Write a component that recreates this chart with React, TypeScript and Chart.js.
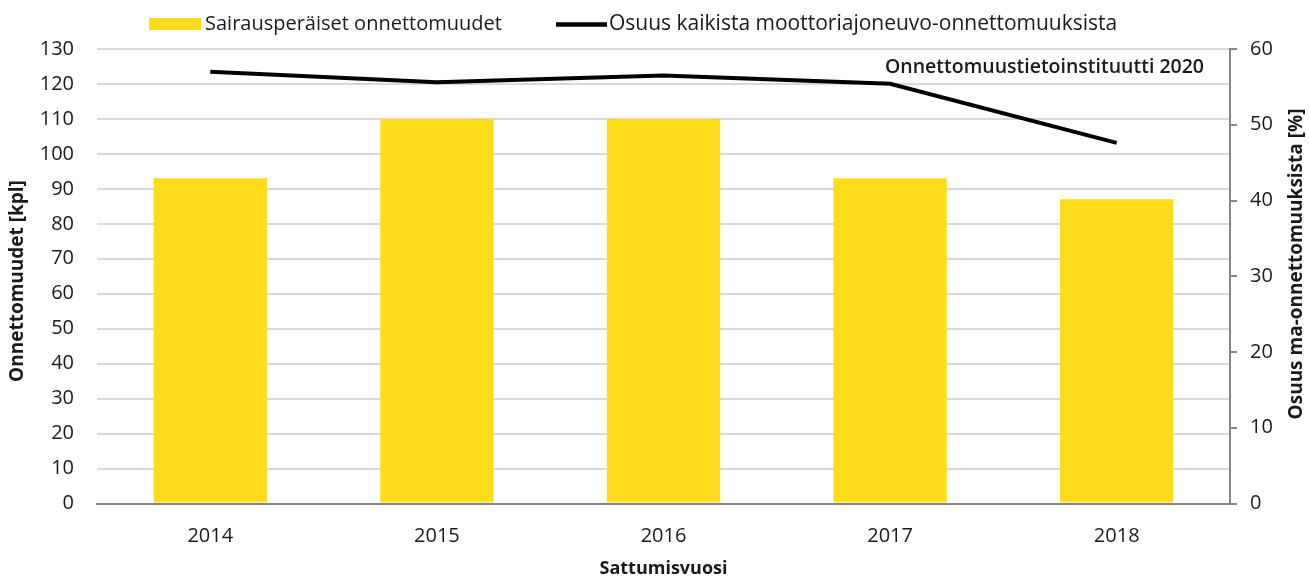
import { useEffect, useRef } from "react";
import { Chart, registerables } from "chart.js";

Chart.register(...registerables);

const years = ["2014", "2015", "2016", "2017", "2018"];
const accidents = [93, 110, 110, 93, 87];
const sharePct = [57.0, 55.6, 56.5, 55.4, 47.6];

const barLabel = "Sairausperäiset onnettomuudet";
const lineLabel = "Osuus kaikista moottoriajoneuvo-onnettomuuksista";
const sourceText = "Onnettomuustietoinstituutti 2020";
const xTitle = "Sattumisvuosi";
const yTitle = "Onnettomuudet [kpl]";
const y1Title = "Osuus ma-onnettomuuksista [%]";

const leftMax = 130;
const rightMax = 60;
const tickStep = 10;

const YELLOW = "#FCDC1B";
const GRID = "#D9D9D9";
const AXIS = "#868686";
const TEXT = "#1A1A1A";
const FONT = "'Open Sans', 'Noto Sans', sans-serif";

const overlayPlugin = {
  id: "overlay",
  afterDraw(chart: any) {
    const ctx = chart.ctx as CanvasRenderingContext2D;
    ctx.save();
    // legend
    ctx.fillStyle = YELLOW;
    ctx.fillRect(149, 18, 52, 12);
    ctx.fillStyle = TEXT;
    ctx.font = `20px ${FONT}`;
    ctx.textBaseline = "middle";
    ctx.textAlign = "left";
    ctx.fillText(barLabel, 205, 24);
    ctx.strokeStyle = "#000";
    ctx.lineWidth = 4.5;
    ctx.beginPath();
    ctx.moveTo(556, 24.5);
    ctx.lineTo(607, 24.5);
    ctx.stroke();
    ctx.font = `21px ${FONT}`;
    ctx.fillText(lineLabel, 609, 24);
    // source
    ctx.font = `600 19.5px ${FONT}`;
    ctx.textAlign = "right";
    ctx.fillText(sourceText, 1204, 67);
    // left axis title
    ctx.font = `bold 19px ${FONT}`;
    ctx.textAlign = "center";
    ctx.save();
    ctx.translate(18, 281);
    ctx.rotate(-Math.PI / 2);
    ctx.fillText(yTitle, 0, 0);
    ctx.restore();
    // right axis title
    ctx.translate(1297, 264);
    ctx.rotate(-Math.PI / 2);
    ctx.fillText(y1Title, 0, 0);
    ctx.restore();
  },
};

export default function App() {
  const ref = useRef<HTMLCanvasElement | null>(null);
  useEffect(() => {
    if (!ref.current) return;
    const chart = new Chart(ref.current, {
      type: "bar",
      data: {
        labels: years,
        datasets: [
          {
            type: "line",
            label: lineLabel,
            data: sharePct,
            yAxisID: "y1",
            borderColor: "#000",
            borderWidth: 4,
            pointRadius: 0,
            tension: 0,
            order: 0,
          } as any,
          {
            type: "bar",
            label: barLabel,
            data: accidents,
            yAxisID: "y",
            backgroundColor: YELLOW,
            categoryPercentage: 1,
            barPercentage: 0.5,
            order: 1,
          },
        ],
      },
      options: {
        responsive: true,
        maintainAspectRatio: false,
        animation: false,
        layout: { padding: { top: 49, left: 0, right: 0, bottom: 0 } },
        plugins: {
          legend: { display: false },
          tooltip: { enabled: false },
        },
        scales: {
          x: {
            offset: true,
            grid: { display: false, drawTicks: false },
            border: { display: true, color: AXIS, width: 2 },
            ticks: { color: TEXT, font: { family: FONT, size: 20 }, padding: 21 },
            title: {
              display: true,
              text: xTitle,
              color: TEXT,
              font: { family: FONT, size: 18, weight: "bold", lineHeight: 1.2 },
              padding: { top: 0, bottom: 1 },
            },
            afterFit(s: any) {
              s.height = 77.5;
            },
          },
          y: {
            position: "left",
            min: 0,
            max: leftMax,
            ticks: { stepSize: tickStep, color: TEXT, font: { family: FONT, size: 20 }, padding: 23 },
            grid: { color: GRID, lineWidth: 2, drawTicks: false },
            border: { display: false },
            title: { display: false, text: yTitle },
            afterFit(s: any) {
              s.width = 97;
            },
          },
          y1: {
            position: "right",
            min: 0,
            max: rightMax,
            ticks: { stepSize: tickStep, color: TEXT, font: { family: FONT, size: 20 }, padding: 13 },
            grid: { drawOnChartArea: false, drawTicks: true, tickLength: 7, color: AXIS, lineWidth: 2 },
            border: { display: true, color: AXIS, width: 2 },
            afterFit(s: any) {
              s.width = 79;
            },
          },
        },
      },
      plugins: [overlayPlugin],
    });
    return () => chart.destroy();
  }, []);
  return (
    <div style={{ position: "fixed", left: 0, top: 0, width: 1309, height: 581, background: "#fff" }}>
      <canvas ref={ref} />
    </div>
  );
}
